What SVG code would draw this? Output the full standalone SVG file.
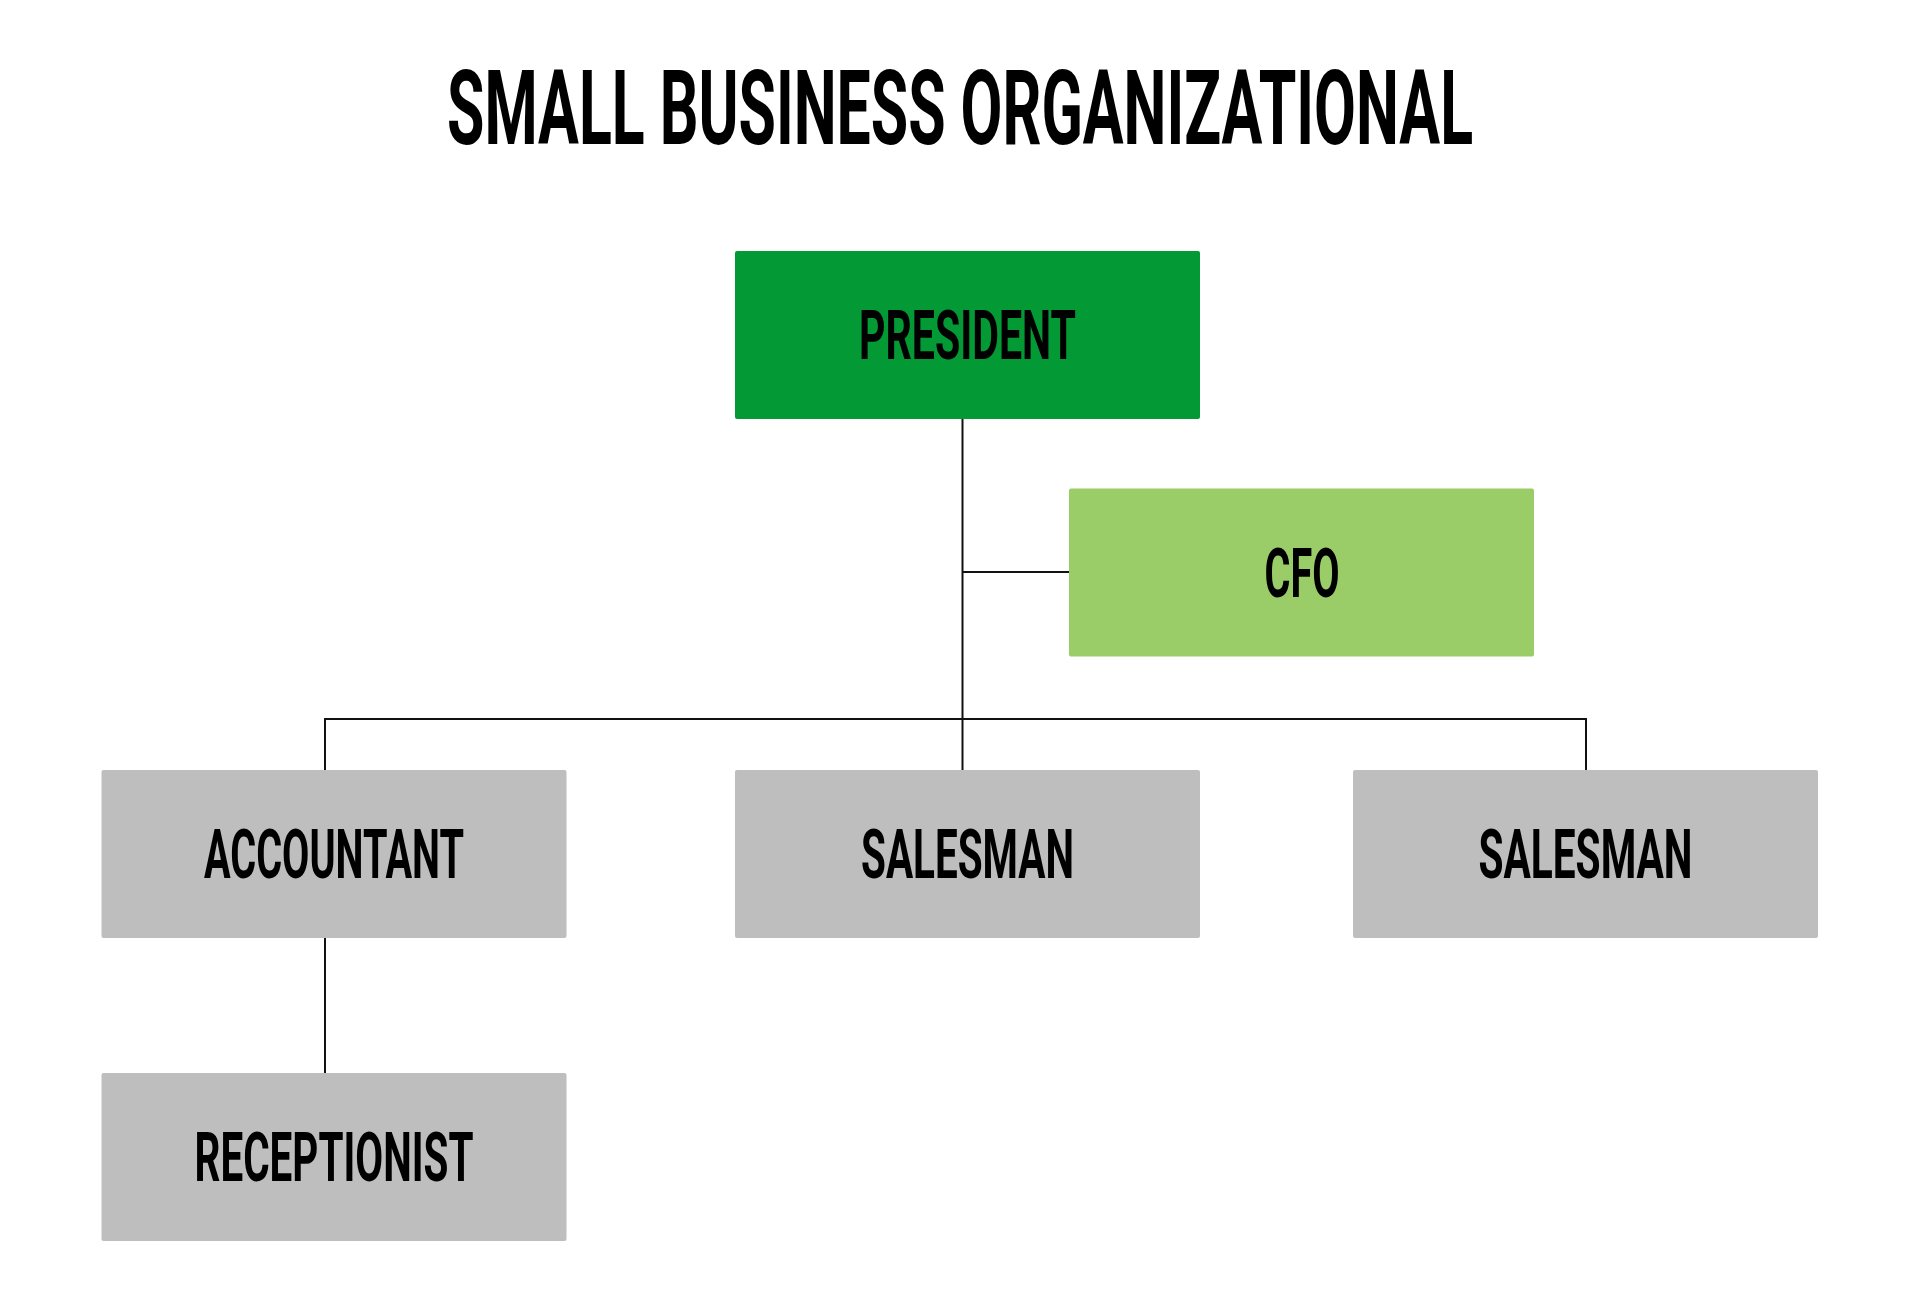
<svg xmlns="http://www.w3.org/2000/svg" width="1920" height="1310" viewBox="0 0 1920 1310">
<style>
.t{font-family:Roboto,"Liberation Sans",sans-serif;font-weight:700;fill:#000;text-anchor:middle}
.lbl{font-size:69px}
.ttl{font-size:103px}
.conn{stroke:#111;stroke-width:2;fill:none}
.pres{fill:#039a36}
.cfo{fill:#9acd68}
.gray{fill:#bebebe}
</style>
<rect width="1920" height="1310" fill="#fff"/>
<text class="t ttl" x="960" y="144" textLength="1026" lengthAdjust="spacingAndGlyphs">SMALL BUSINESS ORGANIZATIONAL</text>
<g id="connectors">
<path class="conn" d="M962.5 419 V770"/>
<path class="conn" d="M962.5 572 H1069"/>
<path class="conn" d="M325 770 V719 H1586 V770"/>
<path class="conn" d="M325 938 V1073"/>
</g>
<g id="president">
<rect class="pres" x="735" y="251" width="465" height="168" rx="2"/>
<text class="t lbl" x="967.5" y="359" textLength="217" lengthAdjust="spacingAndGlyphs">PRESIDENT</text>
</g>
<g id="cfo">
<rect class="cfo" x="1069" y="488.5" width="465" height="168" rx="2"/>
<text class="t lbl" x="1302" y="596.5" textLength="75" lengthAdjust="spacingAndGlyphs">CFO</text>
</g>
<g id="accountant">
<rect class="gray" x="101.5" y="770" width="465" height="168" rx="2"/>
<text class="t lbl" x="334" y="878" textLength="260" lengthAdjust="spacingAndGlyphs">ACCOUNTANT</text>
</g>
<g id="salesman1">
<rect class="gray" x="735" y="770" width="465" height="168" rx="2"/>
<text class="t lbl" x="967.5" y="878" textLength="213" lengthAdjust="spacingAndGlyphs">SALESMAN</text>
</g>
<g id="salesman2">
<rect class="gray" x="1353" y="770" width="465" height="168" rx="2"/>
<text class="t lbl" x="1585.5" y="878" textLength="214" lengthAdjust="spacingAndGlyphs">SALESMAN</text>
</g>
<g id="receptionist">
<rect class="gray" x="101.5" y="1073" width="465" height="168" rx="2"/>
<text class="t lbl" x="334" y="1181" textLength="279" lengthAdjust="spacingAndGlyphs">RECEPTIONIST</text>
</g>
</svg>
